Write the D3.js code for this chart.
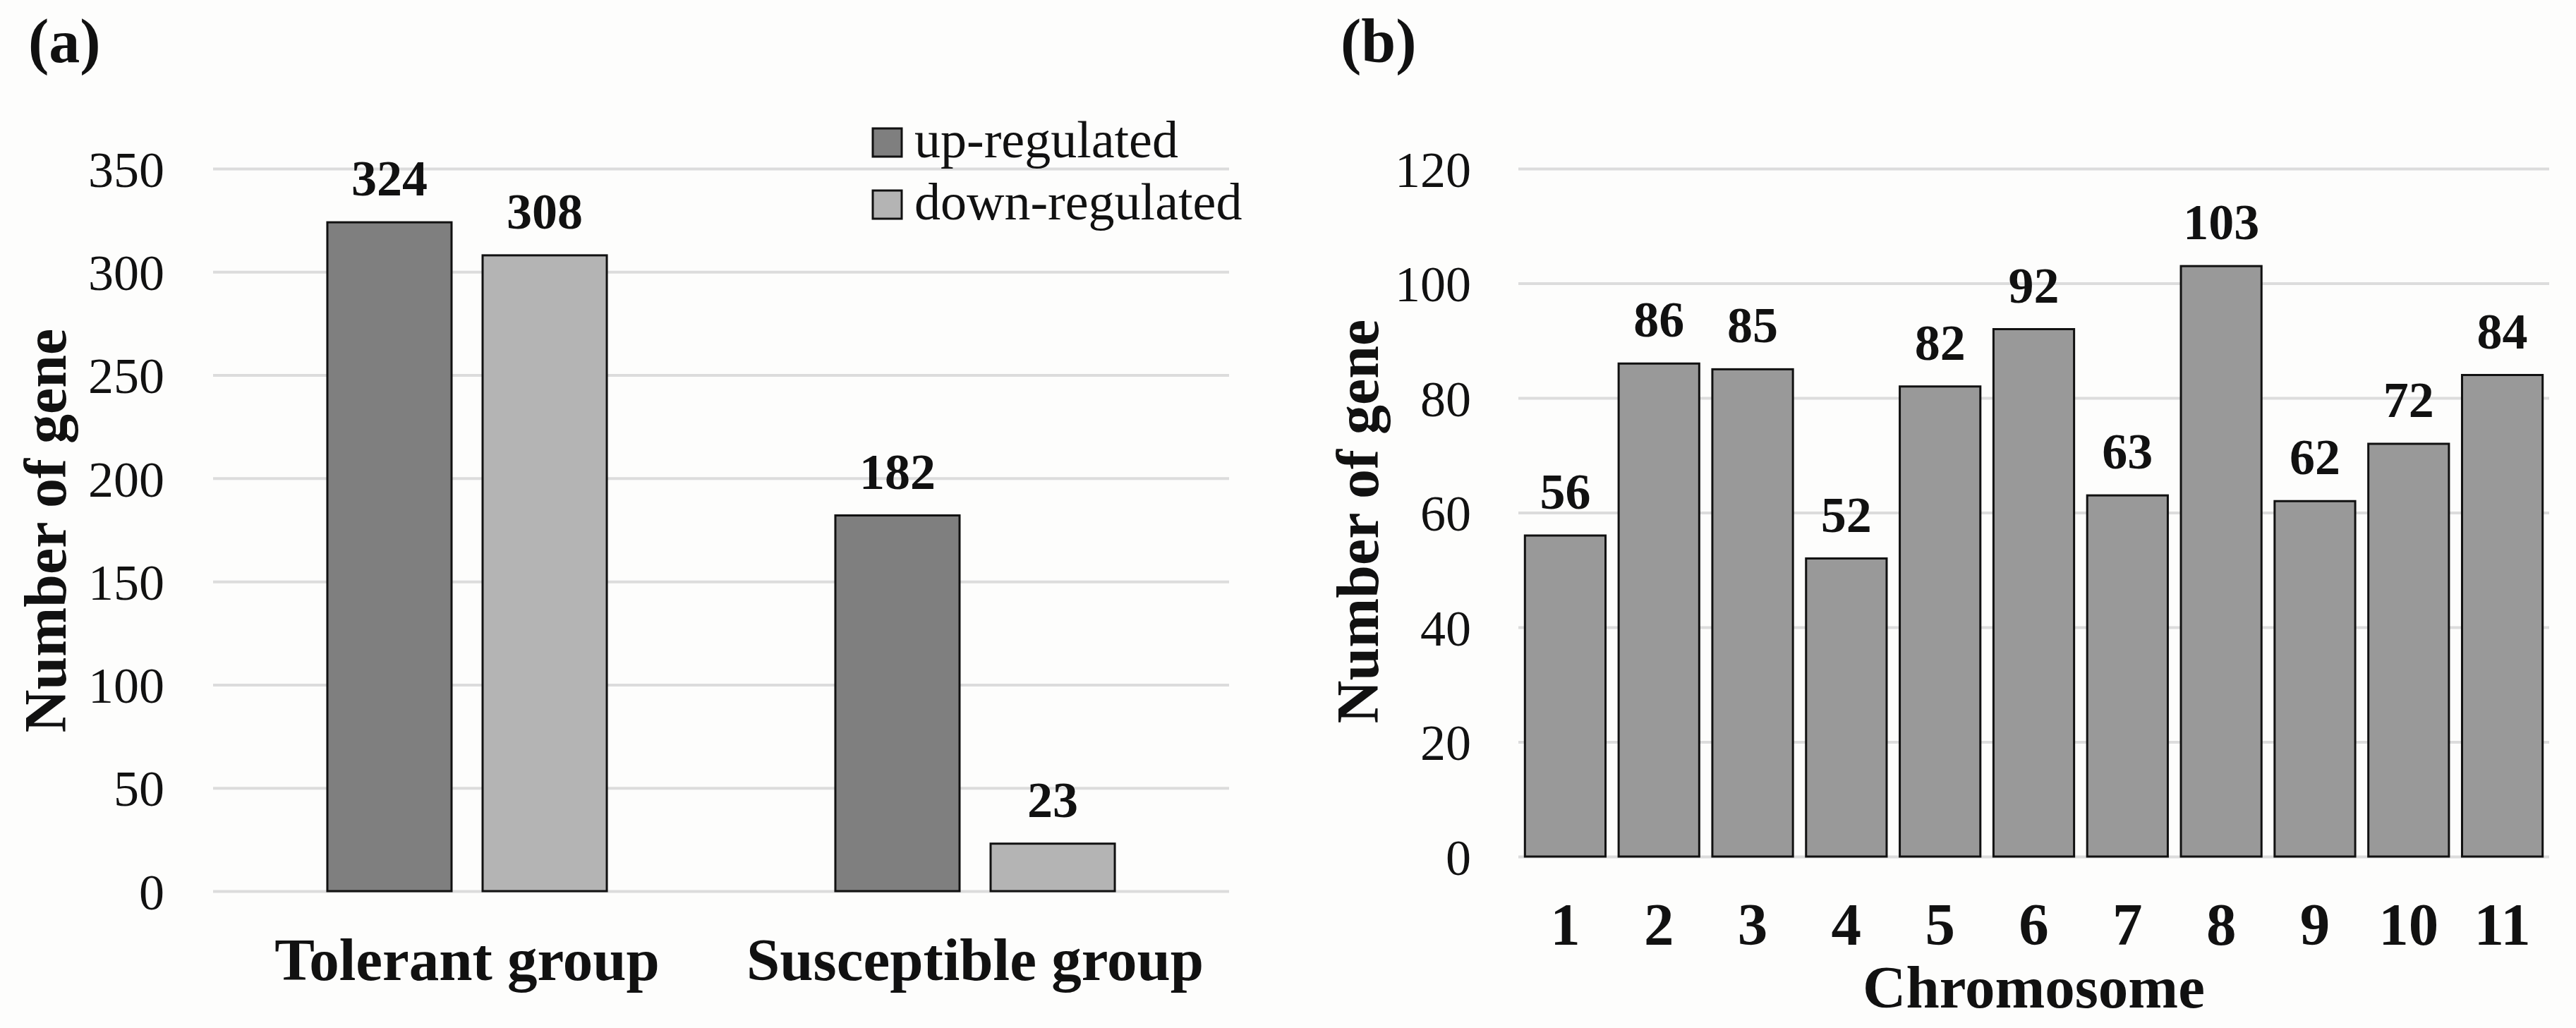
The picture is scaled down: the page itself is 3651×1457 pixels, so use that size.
<!DOCTYPE html>
<html>
<head>
<meta charset="utf-8">
<script src="https://cdn.jsdelivr.net/npm/d3@7"></script>
<style>
  body { margin: 0; background: #fdfdfc; }
  svg text { font-family: "Liberation Serif", "Times New Roman", serif; fill: #111; }
</style>
</head>
<body>
<div id="chart"></div>
<script>
// panel (a) data
const groups = ["Tolerant group", "Susceptible group"];
const series = ["up-regulated", "down-regulated"];
const upValues = [324, 182];
const downValues = [308, 23];
const ticksA = [0, 50, 100, 150, 200, 250, 300, 350];

// panel (b) data
const chromosomes = ["1", "2", "3", "4", "5", "6", "7", "8", "9", "10", "11"];
const geneCounts = [56, 86, 85, 52, 82, 92, 63, 103, 62, 72, 84];
const ticksB = [0, 20, 40, 60, 80, 100, 120];

const W = 3651, H = 1457;
const seriesColor = {"up-regulated": "#7f7f7f", "down-regulated": "#b4b4b4"};

var svg = d3.select("#chart").append("svg")
  .attr("width", W)
  .attr("height", H);

function styleGrid(g) {
  g.select(".domain").remove();
  g.selectAll(".tick line").attr("stroke", "#dcdcdc").attr("stroke-width", 4);
  g.selectAll(".tick text").attr("font-size", "72px").attr("dy", "0.35em").attr("fill", "#111");
}

// ---------- panel (a) ----------
var a = {left: 302, right: 1742, top: 239, bottom: 1263};
var ga = svg.append("g");

var yA = d3.scaleLinear().domain([0, 350]).range([a.bottom, a.top]);
var x0 = d3.scaleBand().domain(groups).range([a.left, a.right]).padding(0);
var x1 = d3.scaleBand().domain(series).range([0, x0.bandwidth()])
  .paddingInner(0.2).paddingOuter(0.736);

ga.append("g")
  .attr("transform", "translate(" + a.left + ",0)")
  .call(d3.axisLeft(yA).tickValues(ticksA).tickSize(-(a.right - a.left)).tickPadding(69))
  .call(styleGrid);

var rowsA = groups.map((g, i) => ({group: g, values: [
  {key: series[0], value: upValues[i]},
  {key: series[1], value: downValues[i]}
]}));

var grp = ga.selectAll(".grp")
  .data(rowsA)
  .enter().append("g")
    .attr("transform", d => "translate(" + x0(d.group) + ",0)");

grp.selectAll("rect")
  .data(d => d.values)
  .enter().append("rect")
    .attr("x", d => x1(d.key))
    .attr("y", d => yA(d.value))
    .attr("width", x1.bandwidth())
    .attr("height", d => yA(0) - yA(d.value))
    .attr("fill", d => seriesColor[d.key])
    .attr("stroke", "#111")
    .attr("stroke-width", 3);

grp.selectAll("text.val")
  .data(d => d.values)
  .enter().append("text")
    .attr("class", "val")
    .attr("x", d => x1(d.key) + x1.bandwidth() / 2)
    .attr("y", d => yA(d.value) - 38)
    .attr("text-anchor", "middle")
    .attr("font-size", "72px")
    .attr("font-weight", "bold")
    .text(d => d.value);

ga.append("g")
  .attr("transform", "translate(0," + a.bottom + ")")
  .call(d3.axisBottom(x0).tickSize(0))
  .call(g => g.select(".domain").remove())
  .call(g => g.selectAll(".tick text")
    .attr("y", 126).attr("dy", 0)
    .attr("font-size", "85px").attr("font-weight", "bold").attr("fill", "#111"));

ga.append("text")
  .attr("transform", "translate(93," + 752 + ") rotate(-90)")
  .attr("text-anchor", "middle")
  .attr("font-size", "84px")
  .attr("font-weight", "bold")
  .text("Number of gene");

ga.append("text")
  .attr("x", 40).attr("y", 88)
  .attr("font-size", "88px")
  .attr("font-weight", "bold")
  .text("(a)");

// legend
var leg = ga.selectAll(".leg")
  .data(series)
  .enter().append("g")
    .attr("transform", (d, i) => "translate(1237," + (182 + i * 88) + ")");
leg.append("rect")
  .attr("width", 41).attr("height", 40)
  .attr("fill", d => seriesColor[d])
  .attr("stroke", "#111").attr("stroke-width", 3);
leg.append("text")
  .attr("x", 59).attr("y", 41)
  .attr("font-size", "74px")
  .text(d => d);

// ---------- panel (b) ----------
var b = {left: 2152, right: 3613, top: 239, bottom: 1214};
var gb = svg.append("g");

var yB = d3.scaleLinear().domain([0, 120]).range([b.bottom, b.top]);
var xB = d3.scaleBand().domain(chromosomes).range([b.left, b.right])
  .paddingInner(0.14).paddingOuter(0.07);

gb.append("g")
  .attr("transform", "translate(" + b.left + ",0)")
  .call(d3.axisLeft(yB).tickValues(ticksB).tickSize(-(b.right - b.left)).tickPadding(67))
  .call(styleGrid);

var rowsB = chromosomes.map((c, i) => ({chr: c, value: geneCounts[i]}));

gb.selectAll("rect.bar")
  .data(rowsB)
  .enter().append("rect")
    .attr("class", "bar")
    .attr("x", d => xB(d.chr))
    .attr("y", d => yB(d.value))
    .attr("width", xB.bandwidth())
    .attr("height", d => yB(0) - yB(d.value))
    .attr("fill", "#999999")
    .attr("stroke", "#111")
    .attr("stroke-width", 3);

gb.selectAll("text.val")
  .data(rowsB)
  .enter().append("text")
    .attr("class", "val")
    .attr("x", d => xB(d.chr) + xB.bandwidth() / 2)
    .attr("y", d => yB(d.value) - 38)
    .attr("text-anchor", "middle")
    .attr("font-size", "72px")
    .attr("font-weight", "bold")
    .text(d => d.value);

gb.append("g")
  .attr("transform", "translate(0," + b.bottom + ")")
  .call(d3.axisBottom(xB).tickSize(0))
  .call(g => g.select(".domain").remove())
  .call(g => g.selectAll(".tick text")
    .attr("y", 125).attr("dy", 0)
    .attr("font-size", "85px").attr("font-weight", "bold").attr("fill", "#111"));

gb.append("text")
  .attr("x", (b.left + b.right) / 2).attr("y", 1428)
  .attr("text-anchor", "middle")
  .attr("font-size", "85px")
  .attr("font-weight", "bold")
  .text("Chromosome");

gb.append("text")
  .attr("transform", "translate(1953," + 739 + ") rotate(-90)")
  .attr("text-anchor", "middle")
  .attr("font-size", "84px")
  .attr("font-weight", "bold")
  .text("Number of gene");

gb.append("text")
  .attr("x", 1900).attr("y", 88)
  .attr("font-size", "88px")
  .attr("font-weight", "bold")
  .text("(b)");
</script>
</body>
</html>
